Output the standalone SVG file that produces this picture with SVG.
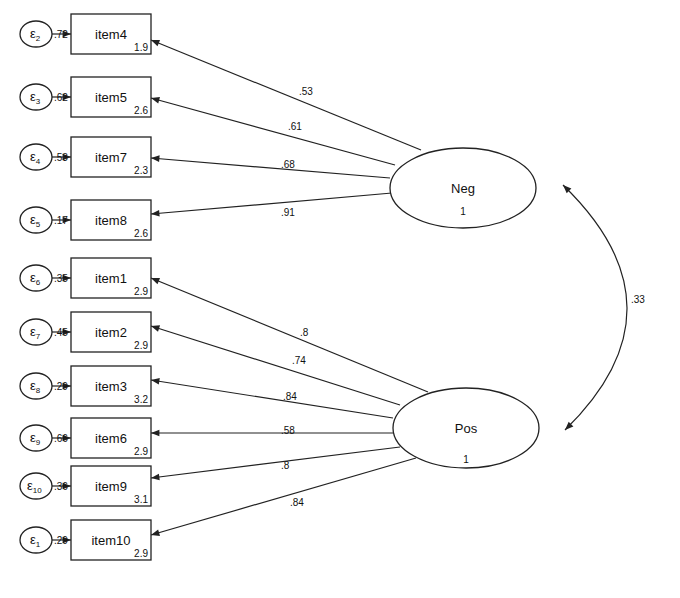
<svg xmlns="http://www.w3.org/2000/svg" width="680" height="598" viewBox="0 0 680 598">
<style>
text{font-family:"Liberation Sans",Arial,sans-serif;fill:#111}
.b{fill:#fff;stroke:#222;stroke-width:1.3}
.n{font-size:13px}
.s{font-size:10px}
.l{stroke:#222;stroke-width:1.2;fill:none}
</style>
<defs><marker id="a" viewBox="0 0 10 10" refX="10" refY="5" markerWidth="8" markerHeight="7" orient="auto-start-reverse"><path d="M0,1 L10,5 L0,9 z" fill="#222"/></marker></defs>
<rect width="680" height="598" fill="#fff"/>
<g id="connectors">
<path class="l" d="M52,34 H71" marker-end="url(#a)"/>
<path class="l" d="M52,97 H71" marker-end="url(#a)"/>
<path class="l" d="M52,157 H71" marker-end="url(#a)"/>
<path class="l" d="M52,220 H71" marker-end="url(#a)"/>
<path class="l" d="M52,278 H71" marker-end="url(#a)"/>
<path class="l" d="M52,332 H71" marker-end="url(#a)"/>
<path class="l" d="M52,386 H71" marker-end="url(#a)"/>
<path class="l" d="M52,438 H71" marker-end="url(#a)"/>
<path class="l" d="M52,486 H71" marker-end="url(#a)"/>
<path class="l" d="M52,540 H71" marker-end="url(#a)"/>
<path class="l" d="M421,150 L151,40" marker-end="url(#a)"/>
<path class="l" d="M395,165 L151,98" marker-end="url(#a)"/>
<path class="l" d="M390,178 L151,158" marker-end="url(#a)"/>
<path class="l" d="M392,193 L151,214" marker-end="url(#a)"/>
<path class="l" d="M428,392 L151,278" marker-end="url(#a)"/>
<path class="l" d="M400,405 L151,326" marker-end="url(#a)"/>
<path class="l" d="M393,418 L151,380" marker-end="url(#a)"/>
<path class="l" d="M393,433 L151,433" marker-end="url(#a)"/>
<path class="l" d="M400,447 L151,478" marker-end="url(#a)"/>
<path class="l" d="M416,458 L151,535" marker-end="url(#a)"/>
<path class="l" d="M563,185 Q690,308 565,430" marker-end="url(#a)" marker-start="url(#a)"/>
<text class="s" x="299" y="95">.53</text>
<text class="s" x="288" y="130">.61</text>
<text class="s" x="281" y="168">.68</text>
<text class="s" x="281" y="216">.91</text>
<text class="s" x="300" y="336">.8</text>
<text class="s" x="292" y="364">.74</text>
<text class="s" x="283" y="400">.84</text>
<text class="s" x="281" y="434">.58</text>
<text class="s" x="281" y="469">.8</text>
<text class="s" x="290" y="506">.84</text>
<text class="s" x="631" y="303">.33</text>
</g>
<g id="Neg"><ellipse class="b" cx="463" cy="188" rx="73" ry="40"/><text class="n" x="463" y="193" text-anchor="middle">Neg</text><text class="s" x="463" y="215" text-anchor="middle">1</text></g>
<g id="Pos"><ellipse class="b" cx="466" cy="428" rx="73" ry="40"/><text class="n" x="466" y="433" text-anchor="middle">Pos</text><text class="s" x="466" y="463" text-anchor="middle">1</text></g>
<g id="item4"><rect class="b" x="71" y="14" width="80" height="40"/><text class="n" x="111" y="39" text-anchor="middle">item4</text><text class="s" x="148" y="51" text-anchor="end">1.9</text></g>
<g id="item5"><rect class="b" x="71" y="77" width="80" height="40"/><text class="n" x="111" y="102" text-anchor="middle">item5</text><text class="s" x="148" y="114" text-anchor="end">2.6</text></g>
<g id="item7"><rect class="b" x="71" y="137" width="80" height="40"/><text class="n" x="111" y="162" text-anchor="middle">item7</text><text class="s" x="148" y="174" text-anchor="end">2.3</text></g>
<g id="item8"><rect class="b" x="71" y="200" width="80" height="40"/><text class="n" x="111" y="225" text-anchor="middle">item8</text><text class="s" x="148" y="237" text-anchor="end">2.6</text></g>
<g id="item1"><rect class="b" x="71" y="258" width="80" height="40"/><text class="n" x="111" y="283" text-anchor="middle">item1</text><text class="s" x="148" y="295" text-anchor="end">2.9</text></g>
<g id="item2"><rect class="b" x="71" y="312" width="80" height="40"/><text class="n" x="111" y="337" text-anchor="middle">item2</text><text class="s" x="148" y="349" text-anchor="end">2.9</text></g>
<g id="item3"><rect class="b" x="71" y="366" width="80" height="40"/><text class="n" x="111" y="391" text-anchor="middle">item3</text><text class="s" x="148" y="403" text-anchor="end">3.2</text></g>
<g id="item6"><rect class="b" x="71" y="418" width="80" height="40"/><text class="n" x="111" y="443" text-anchor="middle">item6</text><text class="s" x="148" y="455" text-anchor="end">2.9</text></g>
<g id="item9"><rect class="b" x="71" y="466" width="80" height="40"/><text class="n" x="111" y="491" text-anchor="middle">item9</text><text class="s" x="148" y="503" text-anchor="end">3.1</text></g>
<g id="item10"><rect class="b" x="71" y="520" width="80" height="40"/><text class="n" x="111" y="545" text-anchor="middle">item10</text><text class="s" x="148" y="557" text-anchor="end">2.9</text></g>
<g id="e2"><ellipse class="b" cx="36" cy="34" rx="16" ry="13"/><text class="n" x="30" y="38">ε<tspan font-size="8" dy="3">2</tspan></text><text class="s" x="54" y="38">.72</text></g>
<g id="e3"><ellipse class="b" cx="36" cy="97" rx="16" ry="13"/><text class="n" x="30" y="101">ε<tspan font-size="8" dy="3">3</tspan></text><text class="s" x="54" y="101">.62</text></g>
<g id="e4"><ellipse class="b" cx="36" cy="157" rx="16" ry="13"/><text class="n" x="30" y="161">ε<tspan font-size="8" dy="3">4</tspan></text><text class="s" x="54" y="161">.53</text></g>
<g id="e5"><ellipse class="b" cx="36" cy="220" rx="16" ry="13"/><text class="n" x="30" y="224">ε<tspan font-size="8" dy="3">5</tspan></text><text class="s" x="54" y="224">.17</text></g>
<g id="e6"><ellipse class="b" cx="36" cy="278" rx="16" ry="13"/><text class="n" x="30" y="282">ε<tspan font-size="8" dy="3">6</tspan></text><text class="s" x="54" y="282">.35</text></g>
<g id="e7"><ellipse class="b" cx="36" cy="332" rx="16" ry="13"/><text class="n" x="30" y="336">ε<tspan font-size="8" dy="3">7</tspan></text><text class="s" x="54" y="336">.45</text></g>
<g id="e8"><ellipse class="b" cx="36" cy="386" rx="16" ry="13"/><text class="n" x="30" y="390">ε<tspan font-size="8" dy="3">8</tspan></text><text class="s" x="54" y="390">.29</text></g>
<g id="e9"><ellipse class="b" cx="36" cy="438" rx="16" ry="13"/><text class="n" x="30" y="442">ε<tspan font-size="8" dy="3">9</tspan></text><text class="s" x="54" y="442">.66</text></g>
<g id="e10"><ellipse class="b" cx="36" cy="486" rx="16" ry="13"/><text class="n" x="27" y="490">ε<tspan font-size="8" dy="3">10</tspan></text><text class="s" x="54" y="490">.36</text></g>
<g id="e1"><ellipse class="b" cx="36" cy="540" rx="16" ry="13"/><text class="n" x="30" y="544">ε<tspan font-size="8" dy="3">1</tspan></text><text class="s" x="54" y="544">.29</text></g>
</svg>
